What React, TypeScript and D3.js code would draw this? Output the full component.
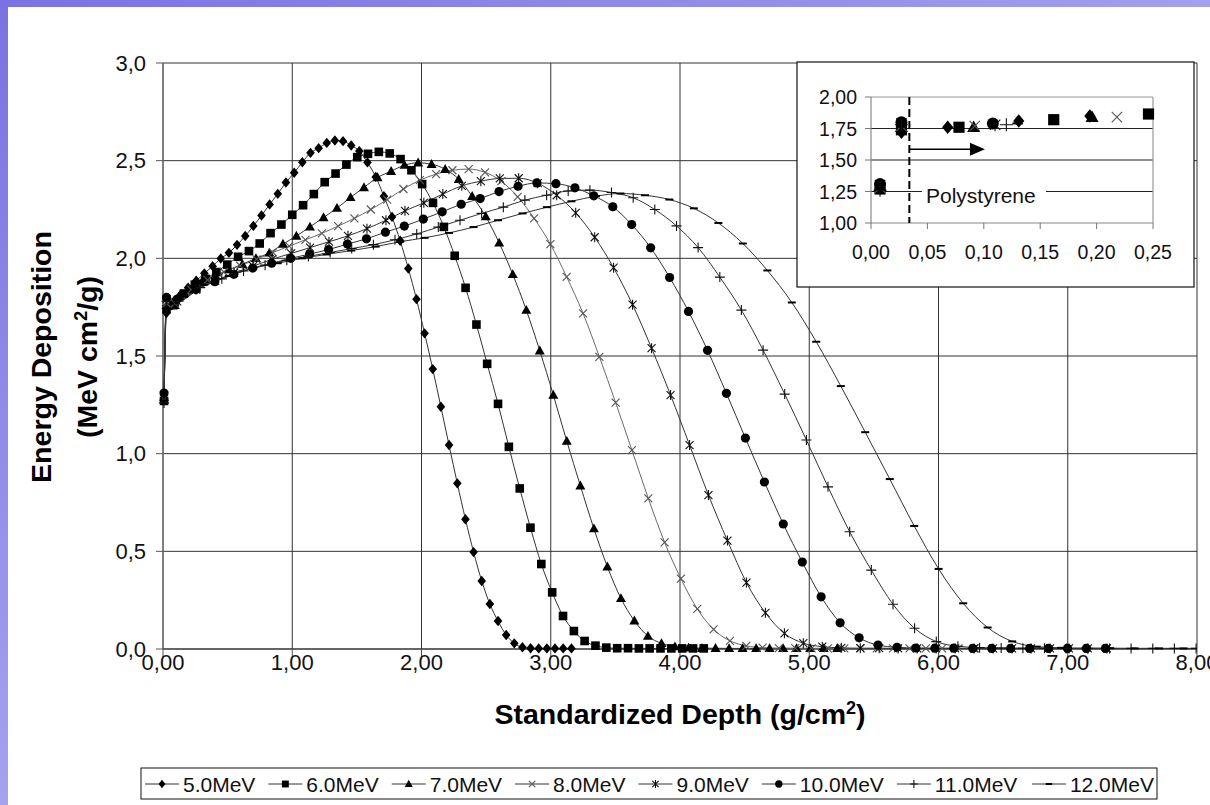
import React from "react";
import * as d3 from "d3";

type Pt = [number, number];

// Depth-dose curves: [standardized depth (g/cm²), energy deposition (MeV cm²/g)]
const mev5: Pt[] = [
  [0.008, 1.28], [0.027, 1.72],
  [0.068, 1.76], [0.131, 1.81], [0.194, 1.85], [0.257, 1.885], [0.320, 1.923], [0.384, 1.960], [0.447, 1.999],
  [0.510, 2.028], [0.573, 2.069], [0.636, 2.114], [0.699, 2.166], [0.762, 2.219], [0.825, 2.276], [0.888, 2.330],
  [0.951, 2.388], [1.015, 2.438], [1.078, 2.492], [1.141, 2.540], [1.204, 2.564], [1.267, 2.591], [1.330, 2.603],
  [1.393, 2.600], [1.456, 2.578], [1.519, 2.549], [1.582, 2.491], [1.646, 2.417], [1.709, 2.318], [1.772, 2.212],
  [1.835, 2.090], [1.898, 1.948], [1.961, 1.791], [2.024, 1.616], [2.087, 1.433], [2.150, 1.240], [2.213, 1.044],
  [2.277, 0.848], [2.340, 0.664], [2.403, 0.496], [2.466, 0.348], [2.529, 0.230], [2.592, 0.143], [2.655, 0.072],
  [2.718, 0.029], [2.781, 0.009], [2.844, 0.004], [2.907, 0.003], [2.970, 0.003], [3.033, 0.003], [3.096, 0.003],
  [3.160, 0.003],
];

const mev6: Pt[] = [
  [0.008, 1.27], [0.027, 1.74],
  [0.078, 1.76], [0.162, 1.82], [0.246, 1.865], [0.329, 1.895], [0.413, 1.930], [0.497, 1.968], [0.581, 2.008],
  [0.665, 2.037], [0.748, 2.076], [0.832, 2.129], [0.916, 2.173], [1.000, 2.223], [1.084, 2.272], [1.167, 2.329],
  [1.251, 2.390], [1.335, 2.434], [1.419, 2.480], [1.503, 2.518], [1.586, 2.535], [1.670, 2.545], [1.754, 2.537],
  [1.838, 2.508], [1.922, 2.451], [2.005, 2.380], [2.089, 2.284], [2.173, 2.161], [2.257, 2.013], [2.341, 1.849],
  [2.425, 1.661], [2.508, 1.460], [2.592, 1.255], [2.676, 1.035], [2.760, 0.822], [2.843, 0.621], [2.927, 0.435],
  [3.011, 0.290], [3.095, 0.169], [3.179, 0.092], [3.262, 0.041], [3.346, 0.017], [3.430, 0.007], [3.514, 0.004],
  [3.598, 0.004], [3.682, 0.003], [3.765, 0.003], [3.849, 0.003], [3.933, 0.003], [4.017, 0.003], [4.101, 0.003],
  [4.184, 0.003],
];

const mev7: Pt[] = [
  [0.008, 1.29], [0.027, 1.76],
  [0.091, 1.76], [0.196, 1.84], [0.300, 1.880], [0.405, 1.912], [0.509, 1.942], [0.614, 1.970], [0.719, 2.000],
  [0.823, 2.028], [0.928, 2.073], [1.032, 2.114], [1.137, 2.161], [1.242, 2.209], [1.346, 2.257], [1.451, 2.312],
  [1.555, 2.363], [1.660, 2.414], [1.765, 2.446], [1.869, 2.477], [1.974, 2.489], [2.078, 2.482], [2.183, 2.456],
  [2.288, 2.405], [2.392, 2.318], [2.497, 2.214], [2.601, 2.079], [2.706, 1.918], [2.811, 1.735], [2.915, 1.527],
  [3.020, 1.300], [3.124, 1.064], [3.229, 0.836], [3.334, 0.616], [3.438, 0.421], [3.543, 0.259], [3.647, 0.145],
  [3.752, 0.066], [3.857, 0.029], [3.961, 0.012], [4.066, 0.006], [4.170, 0.004], [4.275, 0.004], [4.380, 0.003],
  [4.484, 0.003], [4.589, 0.003], [4.693, 0.003], [4.798, 0.003], [4.902, 0.003], [5.007, 0.003], [5.112, 0.003],
  [5.216, 0.003],
];

const mev8: Pt[] = [
  [0.008, 1.28], [0.027, 1.77],
  [0.092, 1.77], [0.218, 1.84], [0.345, 1.89], [0.471, 1.93], [0.597, 1.962], [0.724, 1.995], [0.850, 2.030],
  [0.976, 2.062], [1.102, 2.095], [1.229, 2.128], [1.355, 2.165], [1.481, 2.205], [1.608, 2.250], [1.734, 2.300],
  [1.860, 2.355], [1.987, 2.400], [2.113, 2.431], [2.239, 2.451], [2.365, 2.457], [2.492, 2.440], [2.618, 2.395],
  [2.744, 2.315], [2.871, 2.205], [2.997, 2.073], [3.123, 1.905], [3.250, 1.718], [3.376, 1.496], [3.502, 1.261],
  [3.628, 1.018], [3.755, 0.771], [3.881, 0.546], [4.007, 0.360], [4.134, 0.205], [4.260, 0.100], [4.386, 0.042],
  [4.513, 0.016], [4.639, 0.007], [4.765, 0.004], [4.892, 0.004], [5.018, 0.003], [5.144, 0.003], [5.271, 0.003],
  [5.397, 0.003], [5.523, 0.003], [5.649, 0.003], [5.776, 0.003], [5.902, 0.003], [6.028, 0.003], [6.155, 0.003],
  [6.281, 0.003],
];

const mev9: Pt[] = [
  [0.008, 1.30], [0.027, 1.79],
  [0.110, 1.78], [0.257, 1.84], [0.404, 1.885], [0.550, 1.925], [0.697, 1.960], [0.844, 1.995], [0.991, 2.025],
  [1.138, 2.055], [1.284, 2.085], [1.431, 2.115], [1.578, 2.152], [1.725, 2.195], [1.872, 2.243], [2.018, 2.284],
  [2.165, 2.329], [2.312, 2.371], [2.459, 2.395], [2.606, 2.409], [2.752, 2.410], [2.899, 2.385], [3.046, 2.323],
  [3.193, 2.233], [3.340, 2.108], [3.486, 1.952], [3.633, 1.763], [3.780, 1.540], [3.927, 1.300], [4.074, 1.044],
  [4.220, 0.788], [4.367, 0.555], [4.514, 0.340], [4.661, 0.185], [4.808, 0.080], [4.954, 0.030], [5.101, 0.012],
  [5.248, 0.006], [5.395, 0.004], [5.541, 0.004], [5.688, 0.003], [5.835, 0.003], [5.982, 0.003], [6.129, 0.003],
  [6.275, 0.003], [6.422, 0.003], [6.569, 0.003], [6.716, 0.003], [6.863, 0.003], [7.009, 0.003], [7.156, 0.003],
  [7.303, 0.003],
];

const mev10: Pt[] = [
  [0.008, 1.31], [0.027, 1.80],
  [0.108, 1.79], [0.255, 1.84], [0.401, 1.88], [0.548, 1.918], [0.694, 1.950], [0.841, 1.975], [0.988, 2.000],
  [1.134, 2.022], [1.281, 2.045], [1.427, 2.073], [1.574, 2.100], [1.721, 2.134], [1.867, 2.165], [2.014, 2.201],
  [2.160, 2.238], [2.307, 2.277], [2.454, 2.306], [2.600, 2.342], [2.747, 2.369], [2.893, 2.386], [3.040, 2.382],
  [3.187, 2.361], [3.333, 2.320], [3.480, 2.264], [3.626, 2.173], [3.773, 2.054], [3.920, 1.902], [4.066, 1.728],
  [4.213, 1.529], [4.359, 1.309], [4.506, 1.080], [4.653, 0.855], [4.799, 0.640], [4.946, 0.445], [5.092, 0.267],
  [5.239, 0.134], [5.386, 0.057], [5.532, 0.020], [5.679, 0.009], [5.825, 0.005], [5.972, 0.004], [6.118, 0.004],
  [6.265, 0.003], [6.412, 0.003], [6.558, 0.003], [6.705, 0.003], [6.851, 0.003], [6.998, 0.003], [7.144, 0.003],
  [7.291, 0.003],
];

const mev11: Pt[] = [
  [0.008, 1.26], [0.027, 1.78],
  [0.120, 1.78], [0.288, 1.85], [0.455, 1.895], [0.623, 1.935], [0.790, 1.965], [0.958, 1.990], [1.125, 2.010],
  [1.293, 2.030], [1.460, 2.050], [1.628, 2.070], [1.795, 2.095], [1.963, 2.125], [2.130, 2.160], [2.298, 2.195],
  [2.465, 2.230], [2.633, 2.262], [2.800, 2.298], [2.968, 2.323], [3.135, 2.345], [3.303, 2.349], [3.470, 2.337],
  [3.638, 2.310], [3.805, 2.250], [3.973, 2.166], [4.140, 2.055], [4.308, 1.904], [4.475, 1.735], [4.643, 1.530],
  [4.810, 1.305], [4.978, 1.070], [5.145, 0.830], [5.313, 0.600], [5.480, 0.404], [5.648, 0.229], [5.815, 0.106],
  [5.983, 0.038], [6.150, 0.014], [6.318, 0.007], [6.485, 0.005], [6.653, 0.004], [6.820, 0.004], [6.988, 0.003],
  [7.155, 0.003], [7.323, 0.003], [7.490, 0.003], [7.658, 0.003], [7.825, 0.003], [7.993, 0.003], [8.160, 0.003],
  [8.328, 0.003],
];

const mev12: Pt[] = [
  [0.008, 1.27], [0.027, 1.79],
  [0.130, 1.79], [0.319, 1.865], [0.509, 1.910], [0.698, 1.950], [0.888, 1.975], [1.077, 2.000], [1.266, 2.020],
  [1.456, 2.040], [1.645, 2.060], [1.835, 2.085], [2.024, 2.105], [2.213, 2.130], [2.403, 2.160], [2.592, 2.195],
  [2.782, 2.230], [2.971, 2.262], [3.160, 2.292], [3.350, 2.318], [3.539, 2.332], [3.729, 2.323], [3.918, 2.301],
  [4.107, 2.256], [4.297, 2.181], [4.486, 2.076], [4.676, 1.938], [4.865, 1.774], [5.054, 1.573], [5.244, 1.346],
  [5.433, 1.110], [5.623, 0.870], [5.812, 0.630], [6.001, 0.410], [6.191, 0.234], [6.380, 0.110], [6.570, 0.039],
  [6.759, 0.012], [6.948, 0.006], [7.138, 0.004], [7.327, 0.004], [7.517, 0.003], [7.706, 0.003], [7.895, 0.003],
  [8.085, 0.003],
];

const seriesLabels = ["5.0MeV", "6.0MeV", "7.0MeV", "8.0MeV", "9.0MeV", "10.0MeV", "11.0MeV", "12.0MeV"];
const seriesData: Pt[][] = [mev5, mev6, mev7, mev8, mev9, mev10, mev11, mev12];
type MarkerKind = "diamond" | "square" | "triangle" | "cross" | "star" | "circle" | "plus" | "dash";
const seriesMarkers: MarkerKind[] = ["diamond", "square", "triangle", "cross", "star", "circle", "plus", "dash"];

const xTicks = [0, 1, 2, 3, 4, 5, 6, 7, 8];
const yTicks = [0, 0.5, 1, 1.5, 2, 2.5, 3];
const insetXTicks = [0, 0.05, 0.1, 0.15, 0.2, 0.25];
const insetYTicks = [1, 1.25, 1.5, 1.75, 2];

// start of the polystyrene layer in the magnified view
const polyBoundary = 0.034;
const polyArrowEnd = 0.101;
const polyArrowLevel = 1.585;

const FONT = "'Liberation Sans', Arial, Helvetica, sans-serif";
const comma = (v: number, digits: number) => v.toFixed(digits).replace(".", ",");

function Marker({ kind, x, y, s = 1 }: { kind: MarkerKind; x: number; y: number; s?: number }) {
  switch (kind) {
    case "diamond":
      return <path d={`M${x},${y - 5.2 * s}L${x + 4.3 * s},${y}L${x},${y + 5.2 * s}L${x - 4.3 * s},${y}Z`} fill="#000" />;
    case "square":
      return <rect x={x - 4.3 * s} y={y - 4.3 * s} width={8.6 * s} height={8.6 * s} fill="#000" />;
    case "triangle":
      return <path d={`M${x},${y - 5.2 * s}L${x + 5 * s},${y + 3.7 * s}L${x - 5 * s},${y + 3.7 * s}Z`} fill="#000" />;
    case "cross":
      return (
        <path
          d={`M${x - 4 * s},${y - 4 * s}L${x + 4 * s},${y + 4 * s}M${x - 4 * s},${y + 4 * s}L${x + 4 * s},${y - 4 * s}`}
          stroke="#555" strokeWidth={1.1} fill="none"
        />
      );
    case "star":
      return (
        <path
          d={`M${x - 4 * s},${y - 4 * s}L${x + 4 * s},${y + 4 * s}M${x - 4 * s},${y + 4 * s}L${x + 4 * s},${y - 4 * s}M${x},${y - 5 * s}L${x},${y + 5 * s}`}
          stroke="#111" strokeWidth={1.1} fill="none"
        />
      );
    case "circle":
      return <circle cx={x} cy={y} r={4.6 * s} fill="#000" />;
    case "plus":
      return (
        <path
          d={`M${x - 5 * s},${y}L${x + 5 * s},${y}M${x},${y - 5 * s}L${x},${y + 5 * s}`}
          stroke="#111" strokeWidth={1.1} fill="none"
        />
      );
    case "dash":
      return <path d={`M${x - 4 * s},${y}L${x + 4 * s},${y}`} stroke="#000" strokeWidth={2} fill="none" />;
  }
}

// rough Arial advance widths (em) for legend layout
const advance: Record<string, number> = { ".": 0.278, M: 0.833, e: 0.556, V: 0.667 };
const textWidth = (t: string, size: number) =>
  t.split("").reduce((w, c) => w + (advance[c] ?? 0.556), 0) * size;

export default function App() {
  const W = 1210;
  const H = 805;
  const plot = { left: 163, right: 1197, top: 63, bottom: 649 };

  const x = d3.scaleLinear().domain([0, 8]).range([plot.left, plot.right]);
  const y = d3.scaleLinear().domain([0, 3]).range([plot.bottom, plot.top]);

  const line = d3
    .line<Pt>()
    .x((d) => x(d[0]))
    .y((d) => y(d[1]))
    .curve(d3.curveMonotoneX);

  const inset = { left: 797, top: 62, right: 1194, bottom: 287 };
  const ix = d3.scaleLinear().domain([0, 0.25]).range([871, 1153]);
  const iy = d3.scaleLinear().domain([1, 2]).range([223, 97]);

  // legend layout
  const legendFont = 21;
  const legend = { left: 141, right: 1157, top: 768, bottom: 799 };
  const segment = 34;
  let cursor = legend.left + 4;
  const legendItems = seriesLabels.map((label, i) => {
    const start = cursor;
    const tw = textWidth(label, legendFont);
    cursor = start + segment + 4 + tw + 13;
    return { label, start, kind: seriesMarkers[i] };
  });

  return (
    <svg
      width={W}
      height={H}
      viewBox={`0 0 ${W} ${H}`}
      style={{ position: "absolute", left: 0, top: 0, background: "#fff", fontFamily: FONT }}
    >
      <defs>
        <linearGradient id="bandLeft" x1="0" y1="0" x2="0" y2="1">
          <stop offset="0" stopColor="#7a72e2" />
          <stop offset="1" stopColor="#a6a2ef" />
        </linearGradient>
        <linearGradient id="bandTop" x1="0" y1="0" x2="1" y2="0">
          <stop offset="0" stopColor="#7a72e2" />
          <stop offset="1" stopColor="#a3a0ec" />
        </linearGradient>
        <clipPath id="plotClip">
          <rect x={plot.left - 10} y={plot.top - 10} width={plot.right - plot.left + 10} height={plot.bottom - plot.top + 30} />
        </clipPath>
      </defs>

      <rect x={0} y={0} width={W} height={H} fill="#fff" />
      <rect x={0} y={0} width={8} height={H} fill="url(#bandLeft)" />
      <rect x={0} y={0} width={W} height={7} fill="url(#bandTop)" />

      {/* grid */}
      {yTicks.map((t) => (
        <line key={`gy${t}`} x1={plot.left} x2={plot.right} y1={y(t)} y2={y(t)} stroke="#333" strokeWidth={1} />
      ))}
      {xTicks.map((t) => (
        <line key={`gx${t}`} x1={x(t)} x2={x(t)} y1={plot.top} y2={plot.bottom} stroke="#333" strokeWidth={1} />
      ))}

      {/* axes */}
      <line x1={plot.left} x2={plot.left} y1={plot.top} y2={plot.bottom} stroke="#777" strokeWidth={1.5} />
      <line x1={plot.left} x2={plot.right} y1={plot.bottom} y2={plot.bottom} stroke="#333" strokeWidth={1} />
      {yTicks.map((t) => (
        <g key={`ty${t}`}>
          <line x1={plot.left - 7} x2={plot.left} y1={y(t)} y2={y(t)} stroke="#555" />
          <text x={146} y={y(t) + 7.8} fontSize={22} textAnchor="end" fill="#111">
            {comma(t, 1)}
          </text>
        </g>
      ))}
      {xTicks.map((t) => (
        <g key={`tx${t}`}>
          <line x1={x(t)} x2={x(t)} y1={plot.bottom} y2={plot.bottom + 8} stroke="#555" />
          <text x={x(t)} y={670} fontSize={22} textAnchor="middle" fill="#111">
            {comma(t, 2)}
          </text>
        </g>
      ))}

      {/* curves */}
      <g clipPath="url(#plotClip)">
        {seriesData.map((data, i) => (
          <path key={`l${i}`} d={line(data) ?? ""} fill="none" stroke={i === 3 ? "#6a6a6a" : "#333"} strokeWidth={1} />
        ))}
        {seriesData.map((data, i) => (
          <g key={`m${i}`}>
            {data.map((d, j) => (
              <Marker key={j} kind={seriesMarkers[i]} x={x(d[0])} y={y(d[1])} />
            ))}
          </g>
        ))}
      </g>

      {/* magnified view of the entrance region */}
      <g>
        <rect x={inset.left} y={inset.top} width={inset.right - inset.left} height={inset.bottom - inset.top} fill="#fff" stroke="#111" strokeWidth={1.2} />
        {insetYTicks.slice(1, 4).map((t) => (
          <line key={`igy${t}`} x1={ix(0)} x2={ix(0.25)} y1={iy(t)} y2={iy(t)} stroke="#222" strokeWidth={1} />
        ))}
        <line x1={ix(0)} x2={ix(0.25)} y1={iy(2)} y2={iy(2)} stroke="#999" strokeWidth={1.2} />
        <line x1={ix(0.25)} x2={ix(0.25)} y1={iy(2)} y2={iy(1)} stroke="#999" strokeWidth={1.2} />
        <line x1={ix(0)} x2={ix(0)} y1={iy(2)} y2={iy(1)} stroke="#888" strokeWidth={1.2} />
        <line x1={ix(0)} x2={ix(0.25)} y1={iy(1)} y2={iy(1)} stroke="#888" strokeWidth={1.2} />
        {insetYTicks.map((t) => (
          <g key={`ity${t}`}>
            <line x1={ix(0) - 6} x2={ix(0)} y1={iy(t)} y2={iy(t)} stroke="#777" />
            <text x={857} y={iy(t) + 7} fontSize={19.5} textAnchor="end" fill="#111">
              {comma(t, 2)}
            </text>
          </g>
        ))}
        {insetXTicks.map((t) => (
          <g key={`itx${t}`}>
            <line x1={ix(t)} x2={ix(t)} y1={iy(1)} y2={iy(1) + 6} stroke="#777" />
            <text x={ix(t)} y={259} fontSize={19.5} textAnchor="middle" fill="#111">
              {comma(t, 2)}
            </text>
          </g>
        ))}
        <rect x={922} y={185} width={124} height={24} fill="#fff" />
        <text x={926} y={203} fontSize={21} fill="#111">Polystyrene</text>
        <line x1={ix(polyBoundary)} x2={ix(polyBoundary)} y1={iy(2)} y2={iy(1)} stroke="#000" strokeWidth={2} strokeDasharray="8,4" />
        <line x1={ix(polyBoundary)} x2={ix(polyArrowEnd) - 14} y1={iy(polyArrowLevel)} y2={iy(polyArrowLevel)} stroke="#000" strokeWidth={1.6} />
        <path
          d={`M${ix(polyArrowEnd)},${iy(polyArrowLevel)}L${ix(polyArrowEnd) - 15},${iy(polyArrowLevel) - 6.5}L${ix(polyArrowEnd) - 15},${iy(polyArrowLevel) + 6.5}Z`}
          fill="#000"
        />
        {seriesData.map((data, i) => (
          <g key={`im${i}`}>
            {data
              .filter((d) => d[0] <= 0.25 && d[1] >= 1 && d[1] <= 2)
              .map((d, j) => (
                <Marker key={j} kind={seriesMarkers[i]} x={ix(d[0])} y={iy(d[1])} s={1.3} />
              ))}
          </g>
        ))}
      </g>

      {/* axis titles */}
      <text x={680} y={724} fontSize={28.5} fontWeight="bold" textAnchor="middle" fill="#000">
        Standardized Depth (g/cm<tspan dy={-10} fontSize={18}>2</tspan><tspan dy={10}>)</tspan>
      </text>
      <g transform="translate(51,357) rotate(-90)">
        <text x={0} y={0} fontSize={28.5} fontWeight="bold" textAnchor="middle" fill="#000">
          Energy Deposition
        </text>
      </g>
      <g transform="translate(97,357) rotate(-90)">
        <text x={0} y={0} fontSize={28.5} fontWeight="bold" textAnchor="middle" fill="#000">
          (MeV cm<tspan dy={-10} fontSize={18}>2</tspan><tspan dy={10}>/g)</tspan>
        </text>
      </g>

      {/* legend */}
      <rect x={legend.left} y={legend.top} width={legend.right - legend.left} height={legend.bottom - legend.top} fill="#fff" stroke="#111" strokeWidth={1} />
      {legendItems.map((it) => (
        <g key={it.label}>
          <line x1={it.start} x2={it.start + segment} y1={784} y2={784} stroke="#333" strokeWidth={1} />
          <Marker kind={it.kind} x={it.start + segment / 2} y={784} s={0.8} />
          <text x={it.start + segment + 4} y={791.5} fontSize={legendFont} fill="#111">
            {it.label}
          </text>
        </g>
      ))}
    </svg>
  );
}
